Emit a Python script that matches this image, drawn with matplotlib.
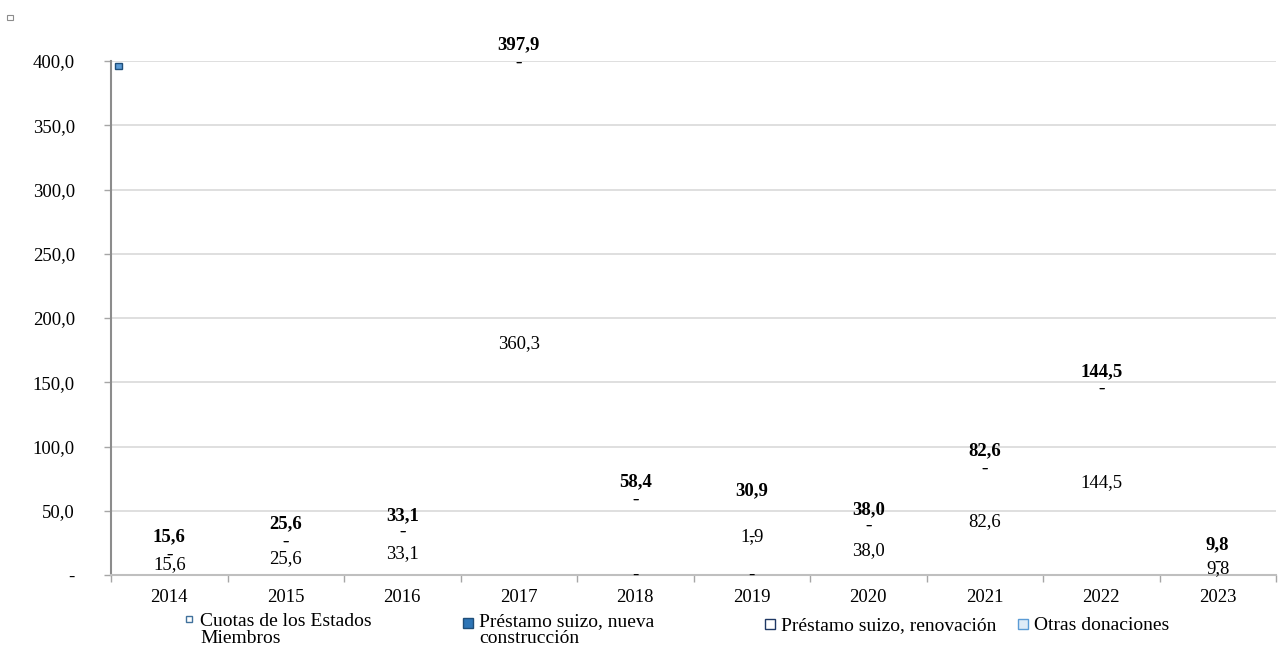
import numpy as np
import matplotlib.pyplot as plt
from matplotlib.lines import Line2D
from matplotlib.patches import Rectangle

plt.rcParams['font.family'] = ['Liberation Serif', 'DejaVu Serif']
plt.rcParams['font.size'] = 13.5

years = ['2014', '2015', '2016', '2017', '2018', '2019', '2020', '2021', '2022', '2023']
cuotas = [15.6, 25.6, 33.1, 360.3, 0.0, 0.0, 38.0, 82.6, 144.5, 9.8]
nueva = [0.0, 0.0, 0.0, 37.6, 58.4, 29.0, 0.0, 0.0, 0.0, 0.0]
renovacion = [0.0] * 10
otras = [0.0, 0.0, 0.0, 0.0, 0.0, 1.9, 0.0, 0.0, 0.0, 0.0]

series_names = ['Cuotas de los Estados\nMiembros', 'Préstamo suizo, nueva\nconstrucción',
                'Préstamo suizo, renovación', 'Otras donaciones']


def fmt(v):
    return '-' if v == 0 else f'{v:.1f}'.replace('.', ',')


W, H = 1282, 645
fig = plt.figure(figsize=(W / 100, H / 100), dpi=100)
ax = fig.add_axes([111 / W, 1 - 575 / H, (1276 - 111) / W, (575 - 61) / H])

x = np.arange(len(years))
series = [cuotas, nueva, renovacion, otras]
# labels on the dark segments are white, so they vanish on the unfilled bars
label_colors = ['black', 'white', 'black', 'black']

bottom = np.zeros(len(years))
for vals, lc in zip(series, label_colors):
    vals = np.array(vals)
    bars = ax.bar(x, vals, 0.6, bottom=bottom, color='none', linewidth=0)
    ax.bar_label(bars, labels=[fmt(v) for v in vals], label_type='center',
                 color=lc, fontsize=13.5)
    bottom += vals

totals = bottom
total_offsets = [13, 13, 12, 14, 13, 32, 12, 13, 13, 13]
for xi, t, off in zip(x, totals, total_offsets):
    ax.annotate(fmt(t), (xi, t), xytext=(0, off), textcoords='offset points',
                ha='center', va='center', fontweight='bold', fontsize=13.5,
                annotation_clip=False)

ax.set_xlim(-0.5, len(years) - 0.5)
ax.set_ylim(0, 400)
yt = np.arange(0, 401, 50)
ax.set_yticks(yt)
ax.set_yticklabels([fmt(v) for v in yt])
ax.yaxis.grid(True, color='#D9D9D9', linewidth=1.2)
ax.set_axisbelow(True)
ax.tick_params(axis='y', length=5, width=1, color='#A6A6A6', pad=21)

ax.set_xticks(np.arange(-0.5, len(years), 1))
ax.set_xticklabels([])
ax.set_xticks(x, minor=True)
ax.set_xticklabels(years, minor=True)
ax.tick_params(axis='x', which='major', length=5, width=1, color='#A6A6A6')
ax.tick_params(axis='x', which='minor', length=0, pad=10)

for s in ['top', 'right']:
    ax.spines[s].set_visible(False)
ax.spines['left'].set_color('#8C8C8C')
ax.spines['left'].set_linewidth(1.5)
ax.spines['bottom'].set_color('#BFBFBF')
ax.spines['bottom'].set_linewidth(1.5)

# legend entries, each placed on its own; shift lifts the marker towards the first line
legend_specs = [
    (series_names[0], 4.0, 'white', '#41719C', 173, 603, 7.5),
    (series_names[1], 6.5, '#2E75B6', '#1F4E79', 452, 603, 4.5),
    (series_names[2], 7.0, 'white', '#1F3864', 754, 607, 0),
    (series_names[3], 7.0, '#DEEBF7', '#5B9BD5', 1007, 607, 0),
]
for name, ms, fc, ec, px, py, shift in legend_specs:
    h = Line2D([], [], marker='s', linestyle='none', markersize=ms,
               markerfacecolor=fc, markeredgecolor=ec, markeredgewidth=1)
    leg = fig.legend([h], [name], loc='upper left', bbox_to_anchor=(px / W, 1 - py / H),
                     frameon=False, borderpad=0, handlelength=0.6, handletextpad=0.3,
                     labelspacing=0, fontsize=14)
    for t in leg.get_texts():
        t.set_linespacing(1.0)
    mh = leg.legend_handles[0]
    mh.set_ydata(np.asarray(mh.get_ydata()) + shift)

# stray markers left in the corner and at the top of the first column
fig.add_artist(Rectangle((7 / W, 1 - 20 / H), 6 / W, 5 / H, transform=fig.transFigure,
                         facecolor='white', edgecolor='#8C8C8C', linewidth=0.8))
fig.add_artist(Rectangle((115 / W, 1 - 69 / H), 7 / W, 6 / H, transform=fig.transFigure,
                         facecolor='#5B9BD5', edgecolor='#1F4E79', linewidth=1))

fig.savefig('out.png', dpi=100)
